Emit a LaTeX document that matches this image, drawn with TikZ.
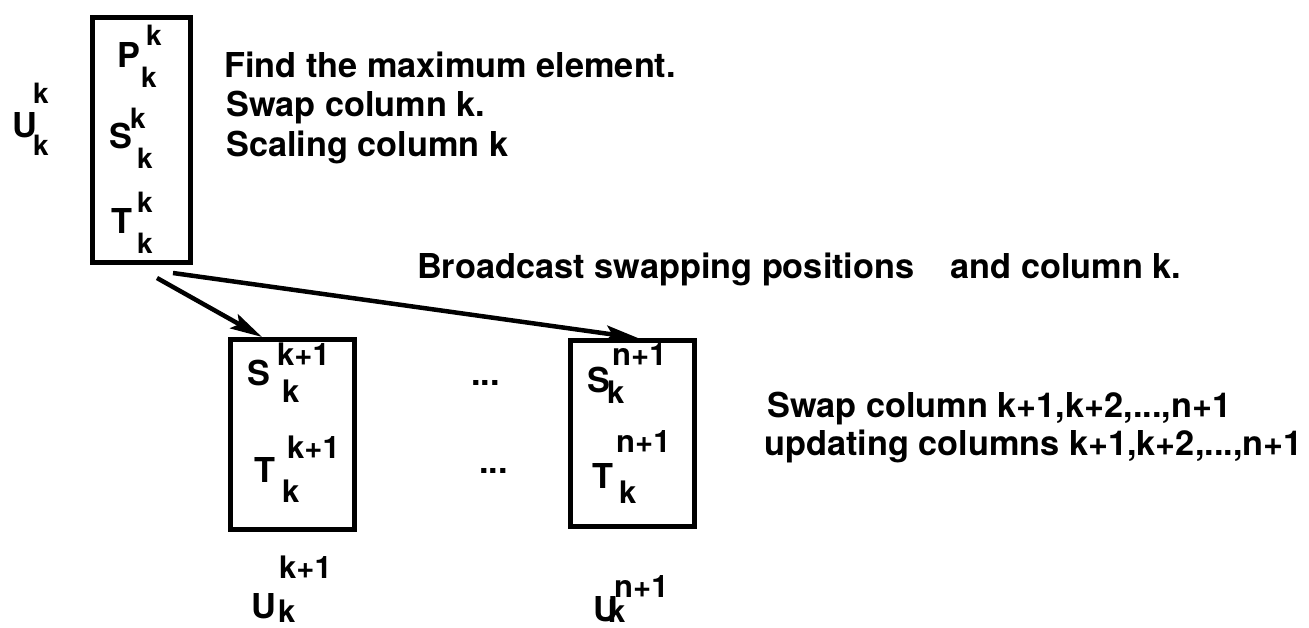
\documentclass[tikz,border=0pt]{standalone}
\usepackage{fontspec}
\setmainfont{TeX Gyre Heros}
\usetikzlibrary{arrows.meta}
\tikzset{
  txt/.style={inner sep=0pt, anchor=base west, font=\fontsize{34.3}{37}\selectfont\bfseries},
  smallscr/.style={inner sep=0pt, anchor=base west, font=\fontsize{28}{30}\selectfont\bfseries},
  bigscr/.style={inner sep=0pt, anchor=base west, font=\fontsize{31}{33}\selectfont\bfseries},
  procbox/.style={draw, line width=5pt, inner sep=0pt},
  link/.style={line width=4.5pt, -{Stealth[length=32pt,width=16pt,inset=6pt]}}
}
\begin{document}
\begin{tikzpicture}[x=1pt,y=-1pt]
\useasboundingbox (0,0) rectangle (1309,627);

% process holding column k
\node[procbox, minimum width=98pt, minimum height=245pt] (pk) at (141.5,140) {};
% processes holding columns k+1 ... n+1
\node[procbox, minimum width=124pt, minimum height=190pt] (pk1) at (292.5,434.5) {};
\node[procbox, minimum width=124pt, minimum height=186pt] (pn1) at (632.5,433.5) {};

% U^k_k beside the first process
\node[txt] (uk) at (12,137) {U};
\node[smallscr] (uksup) at (33,103) {k};
\node[smallscr] (uksub) at (33,155) {k};

% contents of the first process
\node[txt] (p) at (117,67) {P};
\node[smallscr] (psup) at (146,45) {k};
\node[smallscr] (psub) at (141,87) {k};
\node[txt] (s) at (109,148) {S};
\node[smallscr] (ssup) at (130,128) {k};
\node[smallscr] (ssub) at (137,168) {k};
\node[txt] (t) at (111,233) {T};
\node[smallscr] (tsup) at (137,212) {k};
\node[smallscr] (tsub) at (137,253) {k};

% steps performed on column k
\node[txt] (find) at (224,77) {Find the maximum element.};
\node[txt] (swapk) at (226,116) {Swap column k.};
\node[txt] (scale) at (226,156) {Scaling column k};

% broadcast
\node[txt] (bcast) at (417,278) {Broadcast swapping positions\hspace{1.05em}and column k.};
\coordinate (src1) at (157,278);
\coordinate (src2) at (173,273);
\draw[link] (src1) -- ([xshift=34pt]pk1.north west);
\draw[link] (src2) -- ([xshift=70pt]pn1.north west);

% contents of process k+1
\node[txt] (s1) at (247,385) {S};
\node[bigscr] (s1sup) at (277,365) {k+1};
\node[bigscr] (s1sub) at (282,402) {k};
\node[txt] (t1) at (254,482) {T};
\node[bigscr] (t1sup) at (287,458) {k+1};
\node[bigscr] (t1sub) at (282,502) {k};

% gaps between the processes
\node[txt] (dots1) at (471,385) {...};
\node[txt] (dots2) at (479,473) {...};

% contents of process n+1
\node[txt] (s2) at (587,392) {S};
\node[bigscr] (s2sup) at (612,365) {n+1};
\node[bigscr] (s2sub) at (607,403) {k};
\node[txt] (t2) at (592,488) {T};
\node[bigscr] (t2sup) at (616,452) {n+1};
\node[bigscr] (t2sub) at (619,503) {k};

% U below each process
\node[txt] (u1) at (251,618) {U};
\node[bigscr] (u1sup) at (279,578) {k+1};
\node[bigscr] (u1sub) at (278,622) {k};
\node[txt] (u2) at (593,621) {U};
\node[bigscr] (u2sup) at (614,597) {n+1};
\node[bigscr] (u2sub) at (608,622) {k};

% steps performed on the remaining columns
\node[txt] (swaprest) at (767,417) {Swap column k+1,k+2,...,n+1};
\node[txt] (update) at (764,455) {updating columns k+1,k+2,...,n+1};
\end{tikzpicture}
\end{document}
